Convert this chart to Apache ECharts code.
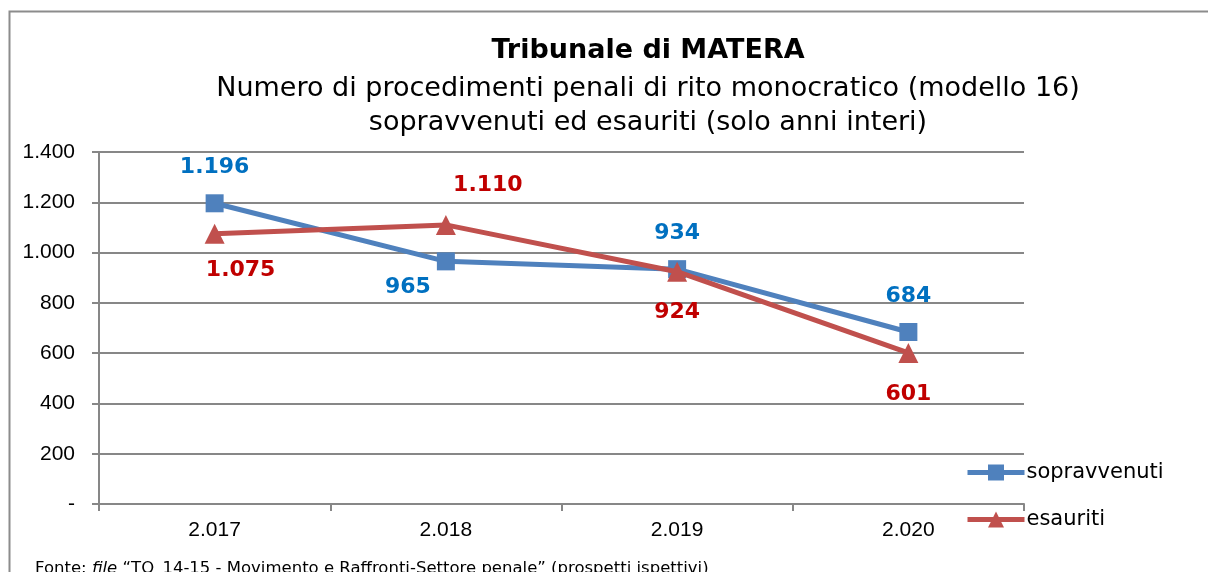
<!DOCTYPE html>
<html>
<head>
<meta charset="utf-8">
<script src="https://cdn.jsdelivr.net/npm/echarts@6/dist/echarts.min.js"></script>
<style>
  html, body { margin: 0; padding: 0; background: #fff; }
  #chart { width: 1208px; height: 572px; }
</style>
</head>
<body>
<div id="chart"></div>
<script>
const anni = ["2.017", "2.018", "2.019", "2.020"];
const sopravvenuti = [1196, 965, 934, 684];
const esauriti = [1075, 1110, 924, 601];
const yTicks = [0, 200, 400, 600, 800, 1000, 1200, 1400];

const fmt = (v) => {
  if (v === 0) return "-";
  return String(v).replace(/\B(?=(\d{3})+(?!\d))/g, ".");
};

// posizione e spostamento delle etichette come nel grafico originale
const posSopr = ["top", "bottom", "top", "top"];
const offSopr = [[0, 0], [-38, -10], [0, 0], [0, 0]];
const posEsau = ["bottom", "top", "bottom", "bottom"];
const offEsau = [[26, 0], [42, -3], [0, 4], [0, 4]];

const chart = echarts.init(document.getElementById("chart"));

const labelBase = {
  show: true,
  fontFamily: "DejaVu Sans",
  fontWeight: "bold",
  fontSize: 22,
  distance: 16,
  formatter: (p) => fmt(p.value),
};

const option = {
  backgroundColor: "#fff",
  animation: false,
  title: {
    text: "Tribunale di MATERA",
    subtext: "Numero di procedimenti penali di rito monocratico (modello 16)\nsopravvenuti ed esauriti (solo anni interi)",
    left: 643,
    top: 32,
    textAlign: "center",
    itemGap: 8,
    textStyle: {
      fontFamily: "DejaVu Sans",
      fontSize: 27,
      fontWeight: "bold",
      color: "#000",
    },
    subtextStyle: {
      fontFamily: "DejaVu Sans",
      fontSize: 27,
      color: "#000",
      lineHeight: 34,
      align: "center",
    },
  },
  grid: {
    left: 99,
    right: 184,
    top: 152,
    bottom: 68,
    containLabel: false,
  },
  legend: {
    orient: "vertical",
    left: 960,
    top: 457,
    itemWidth: 57,
    itemHeight: 20,
    itemGap: 26,
    textStyle: {
      fontFamily: "DejaVu Sans",
      fontSize: 21,
      color: "#000",
      padding: [0, 0, 0, -3],
    },
    data: [
      { name: "sopravvenuti", lineStyle: { width: 5 } },
      { name: "esauriti", lineStyle: { width: 5 } },
    ],
  },
  xAxis: {
    type: "category",
    data: anni,
    boundaryGap: true,
    axisLine: { lineStyle: { color: "#878787", width: 2 } },
    axisTick: { show: true, length: 7, lineStyle: { color: "#878787", width: 2 } },
    axisLabel: {
      fontFamily: "Liberation Sans",
      fontSize: 21,
      color: "#000",
      margin: 16,
    },
  },
  yAxis: {
    type: "value",
    min: 0,
    max: 1400,
    interval: 200,
    axisLine: { show: true, lineStyle: { color: "#878787", width: 2 } },
    axisTick: { show: true, length: 7, lineStyle: { color: "#878787", width: 2 } },
    splitLine: { lineStyle: { color: "#878787", width: 2 } },
    axisLabel: {
      fontFamily: "Liberation Sans",
      fontSize: 21,
      color: "#000",
      margin: 24,
      formatter: (v) => (yTicks.includes(v) ? fmt(v) : ""),
    },
  },
  series: [
    {
      name: "sopravvenuti",
      type: "line",
      data: sopravvenuti.map((v, i) => ({
        value: v,
        label: { position: posSopr[i], offset: offSopr[i] },
      })),
      symbol: "rect",
      symbolSize: 18,
      lineStyle: { color: "#4F81BD", width: 5 },
      itemStyle: { color: "#4F81BD" },
      label: Object.assign({}, labelBase, { color: "#0070C0" }),
      z: 3,
    },
    {
      name: "esauriti",
      type: "line",
      data: esauriti.map((v, i) => ({
        value: v,
        label: { position: posEsau[i], offset: offEsau[i] },
      })),
      symbol: "triangle",
      symbolSize: 20,
      lineStyle: { color: "#C0504D", width: 5 },
      itemStyle: { color: "#C0504D" },
      label: Object.assign({}, labelBase, { color: "#C00000" }),
      z: 4,
    },
  ],
  graphic: [
    {
      type: "rect",
      shape: { x: 9.5, y: 11.5, width: 1300, height: 700 },
      style: { fill: "none", stroke: "#8c8c8c", lineWidth: 2 },
      silent: true,
      z: -10,
    },
    {
      type: "text",
      left: 35,
      top: 560,
      style: {
        text: "Fonte: {i|file} “TO_14-15 - Movimento e Raffronti-Settore penale” (prospetti ispettivi)",
        font: "16.5px 'DejaVu Sans'",
        fill: "#000",
        rich: {
          i: { fontStyle: "italic", fontFamily: "DejaVu Sans", fontSize: 16.5 },
        },
      },
    },
  ],
};

chart.setOption(option);
</script>
</body>
</html>
